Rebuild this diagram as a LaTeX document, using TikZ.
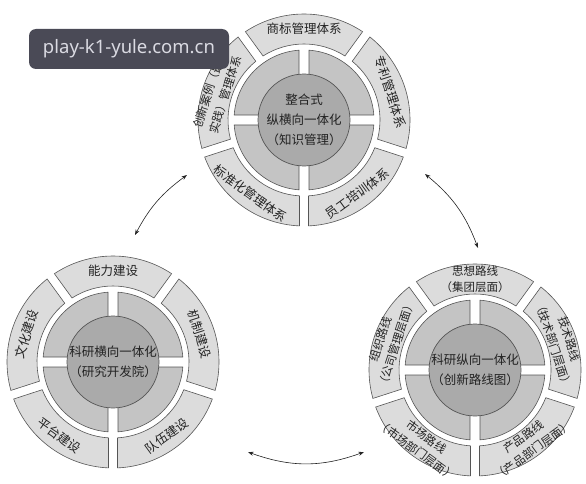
\documentclass[tikz,border=0pt]{standalone}
\usepackage{fontspec}
\newfontfamily\cjk{Noto Sans CJK SC}
\setsansfont{Noto Sans}
\usetikzlibrary{arrows.meta}

\definecolor{segfill}{HTML}{DCDCDC}
\definecolor{quadfill}{HTML}{C4C4C4}
\definecolor{hubfill}{HTML}{AAAAAA}
\definecolor{edge}{HTML}{555555}
\definecolor{ink}{HTML}{222222}
\definecolor{wmfill}{HTML}{4A4A56}
\definecolor{wmtext}{HTML}{DADAE2}

\begin{document}
\begin{tikzpicture}[x=1pt, y=1pt,
  seg/.style={draw=edge, fill=segfill, line width=0.6pt},
  quad/.style={draw=edge, fill=quadfill, line width=0.6pt},
  hub/.style={draw=edge, fill=hubfill, line width=0.7pt},
  lab/.style={text=ink, align=center, inner sep=0pt, font=\cjk\fontsize{12.5}{15}\selectfont},
  lab2/.style={lab, font=\cjk\fontsize{11.5}{16.5}\selectfont},
  hublab/.style={lab, font=\cjk\fontsize{12.5}{20}\selectfont},
  link/.style={{Stealth[length=5.5pt,width=4pt]}-{Stealth[length=5.5pt,width=4pt]}, draw=ink, line width=0.6pt}]

\useasboundingbox (0,0) rectangle (586,483);

\coordinate (ctop) at (304,363);
\coordinate (cleft) at (113,121);
\coordinate (cright) at (475,113);

% the three wheels
\foreach \c in {ctop,cleft,cright}{
\begin{scope}[shift={(\c)}]
\foreach \g in {0,90,180,270}{
  \pgfmathsetmacro\ga{\g+asin(5/70)}
  \pgfmathsetmacro\gb{\g+90-asin(5/70)}
  \draw[quad] (\g+45:7.07) -- (\ga:70) arc[start angle=\ga, end angle=\gb, radius=70] -- cycle;
}
\draw[hub] (0,0) circle (46);
\foreach \g in {-18,54,126,198,270}{
  \pgfmathsetmacro\oa{\g+asin(4.5/106)}
  \pgfmathsetmacro\ob{\g+72-asin(4.5/106)}
  \pgfmathsetmacro\ia{\g+72-asin(4.5/76)}
  \pgfmathsetmacro\ib{\g+asin(4.5/76)}
  \draw[seg] (\oa:106) arc[start angle=\oa, end angle=\ob, radius=106]
    -- (\ia:76) arc[start angle=\ia, end angle=\ib, radius=76] -- cycle;
}
\end{scope}
}

% knowledge management
\begin{scope}[shift={(ctop)}]
\node[hublab] (top-hub) at (0,0) {整合式\\纵横向一体化\\（知识管理）};
\node[lab] (top-n) at (90:91) {商标管理体系};
\node[lab, rotate=-72] (top-e) at (18:91) {专利管理体系};
\node[lab, rotate=36] (top-se) at (-54:91) {员工培训体系};
\node[lab, rotate=-36] (top-sw) at (-126:91) {标准化管理体系};
\node[lab2, rotate=72] (top-w) at (162:91) {创新案例（最佳\\实践）管理体系};
\end{scope}

% research institute
\begin{scope}[shift={(cleft)}]
\node[hublab] (left-hub) at (0,0) {科研横向一体化\\（研究开发院）};
\node[lab] (left-n) at (90:91) {能力建设};
\node[lab, rotate=-72] (left-e) at (18:91) {机制建设};
\node[lab, rotate=36] (left-se) at (-54:91) {队伍建设};
\node[lab, rotate=-36] (left-sw) at (-126:91) {平台建设};
\node[lab, rotate=72] (left-w) at (162:91) {文化建设};
\end{scope}

% roadmap
\begin{scope}[shift={(cright)}]
\node[hublab] (right-hub) at (0,0) {科研纵向一体化\\（创新路线图）};
\node[lab2] (right-n) at (90:91) {思想路线\\（集团层面）};
\node[lab2, rotate=-72] (right-e) at (18:91) {技术路线\\（技术部门层面）};
\node[lab2, rotate=36] (right-se) at (-54:91) {产品路线\\（产品部门层面）};
\node[lab2, rotate=-36] (right-sw) at (-126:91) {市场路线\\（市场部门层面）};
\node[lab2, rotate=72] (right-w) at (162:91) {组织路线\\（公司管理层面）};
\end{scope}

\coordinate (l1) at (135,248);
\coordinate (l2) at (187,308);
\coordinate (r1) at (425,309);
\coordinate (r2) at (478,235);
\coordinate (b1) at (364,31);
\coordinate (b2) at (248,31);

\draw[link] (l1) to[bend left=13] (l2);
\draw[link] (r1) to[bend left=15] (r2);
\draw[link] (b1) to[bend left=20] (b2);

\node[fill=wmfill, rounded corners=7pt, minimum width=200pt, minimum height=40pt,
  text=wmtext, font=\sffamily\fontsize{18.5}{20}\selectfont, inner sep=0pt] (mark) at (129,434) {play-k1-yule.com.cn};

\end{tikzpicture}
\end{document}
